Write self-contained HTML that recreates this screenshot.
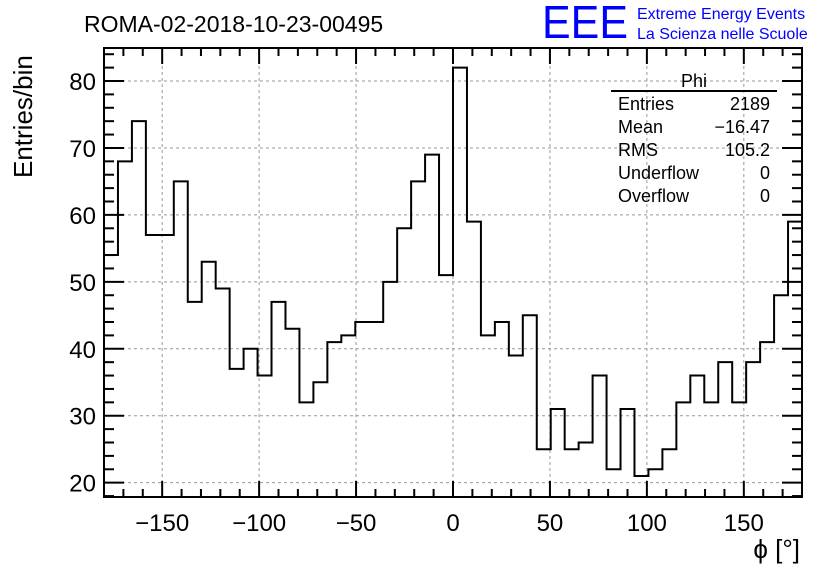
<!DOCTYPE html>
<html><head><meta charset="utf-8"><style>
body{margin:0;background:#fff;}
svg{display:block;font-family:"Liberation Sans",sans-serif;}
</style></head><body>
<svg id="c" width="836" height="572">
<text x="84" y="32" font-size="23">ROMA-02-2018-10-23-00495</text>
<text x="542" y="38" font-size="46" fill="#0000ff" textLength="86" lengthAdjust="spacingAndGlyphs">EEE</text>
<text x="637" y="19" font-size="16" fill="#0000ff">Extreme Energy Events</text>
<text x="637" y="39" font-size="16" fill="#0000ff">La Scienza nelle Scuole</text>
<text transform="translate(32,178) rotate(-90)" font-size="26" text-anchor="start">Entries/bin</text>
<text x="800" y="558" font-size="26" text-anchor="end">ϕ [°]</text>
<g id="grid"></g><g id="axes"></g><g id="hist"></g>
<g>
<text x="694" y="87" font-size="18" text-anchor="middle">Phi</text>
<line x1="611" y1="91" x2="777" y2="91" stroke="#000" stroke-width="2"/>
<text x="618" y="110" font-size="18">Entries</text><text x="770" y="110" font-size="18" text-anchor="end">2189</text>
<text x="618" y="133" font-size="18">Mean</text><text x="770" y="133" font-size="18" text-anchor="end">−16.47</text>
<text x="618" y="156" font-size="18">RMS</text><text x="770" y="156" font-size="18" text-anchor="end">105.2</text>
<text x="618" y="179" font-size="18">Underflow</text><text x="770" y="179" font-size="18" text-anchor="end">0</text>
<text x="618" y="202" font-size="18">Overflow</text><text x="770" y="202" font-size="18" text-anchor="end">0</text>
</g>
</svg>
<script>
const counts=[54,68,74,57,57,65,47,53,49,37,40,36,47,43,32,35,41,42,44,44,50,58,65,69,51,82,59,42,44,39,45,25,31,25,26,36,22,31,21,22,25,32,36,32,38,32,38,41,48,59];
const xTicks=[-150,-100,-50,0,50,100,150];
const yTicks=[20,30,40,50,60,70,80];
const xMin=-180,xMax=180,yMin=17.86,yMax=84.93;
const L=104,R=802,T=48,B=497;
const X=v=>L+(v-xMin)/(xMax-xMin)*(R-L);
const Y=v=>B-(v-yMin)/(yMax-yMin)*(B-T);
const NS="http://www.w3.org/2000/svg";
function mk(p,t,a){const e=document.createElementNS(NS,t);for(const k in a)e.setAttribute(k,a[k]);p.appendChild(e);return e;}
const grid=document.getElementById('grid'),axes=document.getElementById('axes'),hist=document.getElementById('hist');
xTicks.forEach(v=>{const l=mk(grid,'line',{x1:X(v),x2:X(v),y1:T,y2:B,stroke:'#999','stroke-dasharray':'3,3'});

mk(axes,'line',{x1:X(v),x2:X(v),y1:B,y2:B-16,stroke:'#000','stroke-width':2});mk(axes,'line',{x1:X(v),x2:X(v),y1:T,y2:T+16,stroke:'#000','stroke-width':2});
const t=mk(axes,'text',{x:X(v),y:B+34,'font-size':24,'text-anchor':'middle'});t.textContent=v<0?'−'+(-v):String(v);
});
for(let v=-170;v<=170;v+=10){if(v%50)continue;}
for(let v=-180;v<=180;v+=10){if(v%50===0)continue;mk(axes,'line',{x1:X(v),x2:X(v),y1:B,y2:B-8,stroke:'#000','stroke-width':2});mk(axes,'line',{x1:X(v),x2:X(v),y1:T,y2:T+8,stroke:'#000','stroke-width':2});}
yTicks.forEach(v=>{const l=mk(grid,'line',{x1:L,x2:R,y1:Y(v),y2:Y(v),stroke:'#999','stroke-dasharray':'3,3'});

mk(axes,'line',{x1:L,x2:L+20,y1:Y(v),y2:Y(v),stroke:'#000','stroke-width':2});mk(axes,'line',{x1:R,x2:R-20,y1:Y(v),y2:Y(v),stroke:'#000','stroke-width':2});
const t=mk(axes,'text',{x:L-8,y:Y(v)+9,'font-size':24,'text-anchor':'end'});t.textContent=v;
});
for(let v=18;v<=84;v+=2){if(v%10===0)continue;mk(axes,'line',{x1:L,x2:L+10,y1:Y(v),y2:Y(v),stroke:'#000','stroke-width':2});mk(axes,'line',{x1:R,x2:R-10,y1:Y(v),y2:Y(v),stroke:'#000','stroke-width':2});}
const fr=mk(axes,'rect',{x:L,y:T,width:R-L,height:B-T,fill:'none',stroke:'#000','stroke-width':2});

const w=(xMax-xMin)/counts.length;let d='';
counts.forEach((c,i)=>{const x0=X(xMin+i*w),x1=X(xMin+(i+1)*w),y=Y(c);d+=(i===0?'M'+x0+','+y:'L'+x0+','+y)+'L'+x1+','+y;});
const p=mk(hist,'path',{d:d,fill:'none',stroke:'#000','stroke-width':2});


</script>
</body></html>
